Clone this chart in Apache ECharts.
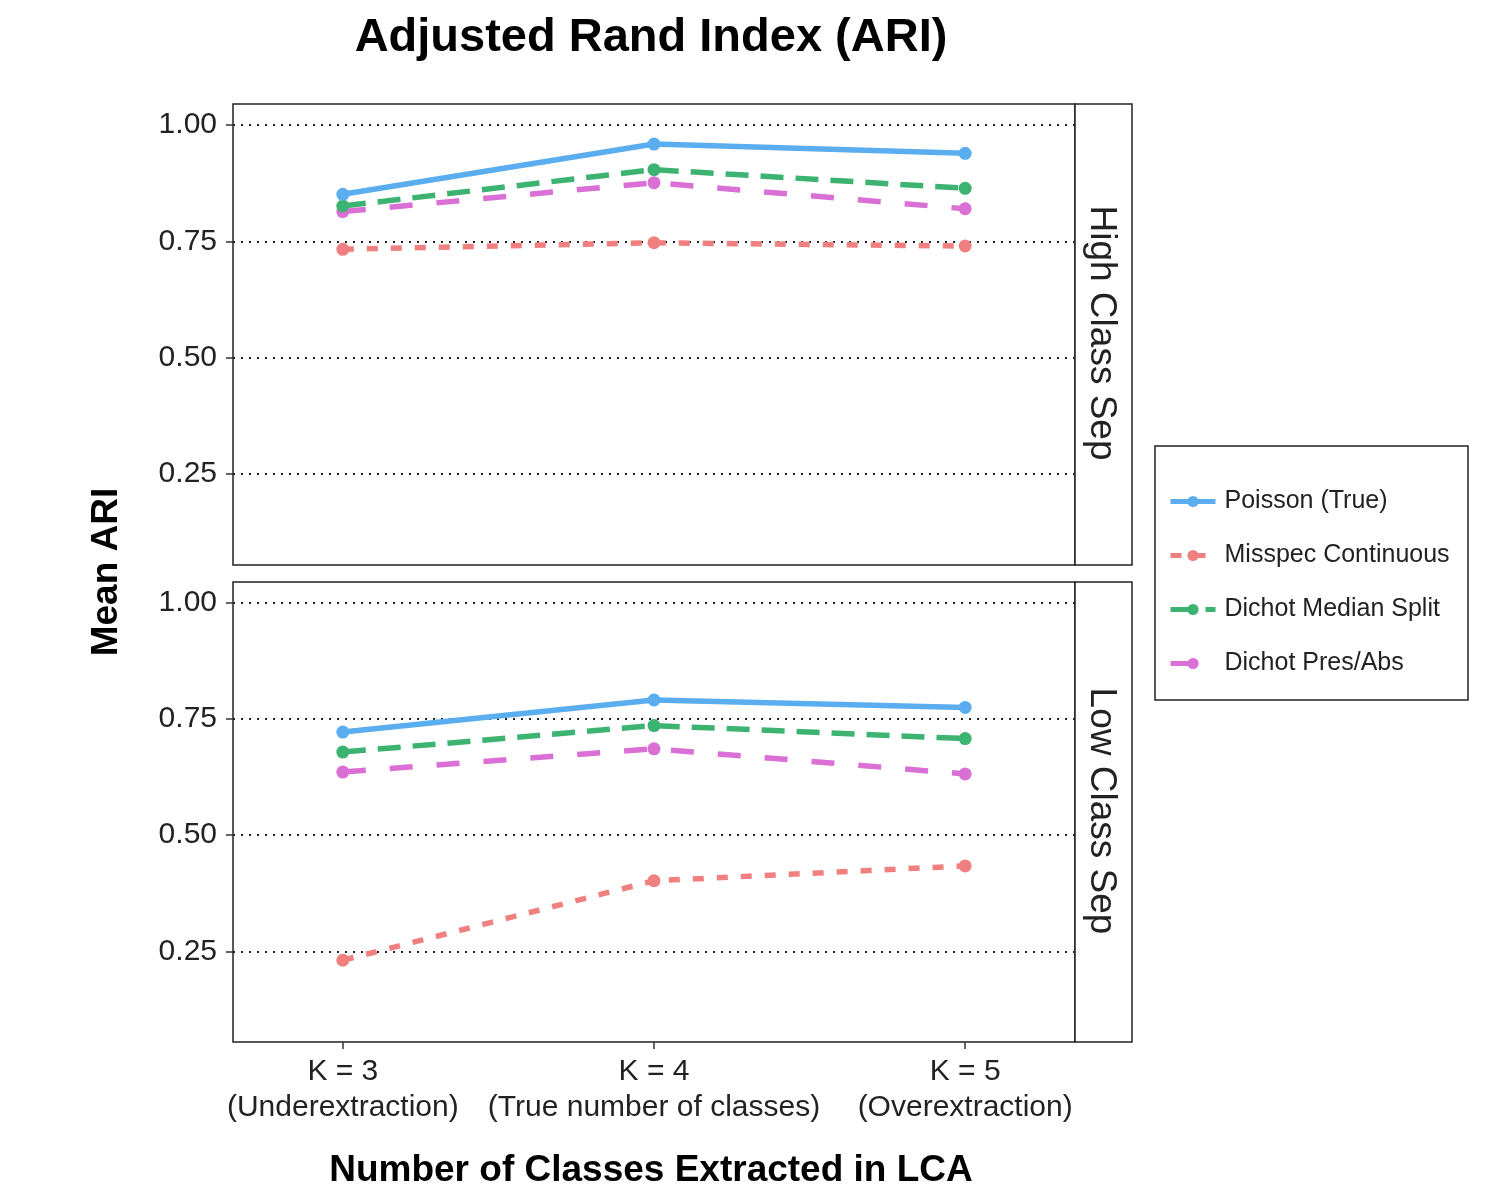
<!DOCTYPE html>
<html>
<head>
<meta charset="utf-8">
<script src="https://cdn.jsdelivr.net/npm/echarts@6/dist/echarts.min.js"></script>
<style>
  html, body { margin: 0; padding: 0; background: #fff; }
  #chart { width: 1509px; height: 1203px; }
</style>
</head>
<body>
<div id="chart"></div>
<script>
// x positions and tick labels
const kValues = [3, 4, 5]
const kLabels = ['K = 3\n(Underextraction)', 'K = 4\n(True number of classes)', 'K = 5\n(Overextraction)']
const yTicks = [0.25, 0.5, 0.75, 1.0]

const seriesNames = ['Poisson (True)', 'Misspec Continuous', 'Dichot Median Split', 'Dichot Pres/Abs']

// High Class Sep panel
const highPoisson = [0.851, 0.959, 0.939]
const highMisspec = [0.733, 0.747, 0.740]
const highMedian = [0.826, 0.904, 0.864]
const highPresAbs = [0.814, 0.876, 0.820]

// Low Class Sep panel
const lowPoisson = [0.722, 0.791, 0.775]
const lowMisspec = [0.231, 0.402, 0.434]
const lowMedian = [0.679, 0.736, 0.708]
const lowPresAbs = [0.636, 0.686, 0.632]

const colors = ['#5AADEE', '#F08080', '#3CB371', '#DA70D6']
const dashes = ['solid', [11, 13], [23, 12], [23, 24]]
const font = 'Liberation Sans'

const chart = echarts.init(document.getElementById('chart'))

function makeSeries(name, idx, values, gridIdx) {
    return {
        name: name,
        type: 'line',
        xAxisIndex: gridIdx,
        yAxisIndex: gridIdx,
        data: values.map((v, i) => [kValues[i], v]),
        symbol: 'circle',
        symbolSize: 13,
        color: colors[idx],
        lineStyle: { width: 5.5, type: dashes[idx], color: colors[idx] },
        itemStyle: { color: colors[idx] },
        z: 10 - idx
    }
}

function yAxisFor(gridIdx) {
    return {
        type: 'value',
        gridIndex: gridIdx,
        min: 0.055,
        max: 1.045,
        axisLine: { show: false },
        axisTick: { show: true, length: 7, customValues: yTicks, lineStyle: { color: '#333', width: 1.5 } },
        axisLabel: {
            customValues: yTicks,
            formatter: v => v.toFixed(2),
            fontFamily: font, fontSize: 30, color: '#222', margin: 16
        },
        splitLine: { show: true, lineStyle: { color: '#222', width: 2, type: [2, 6] } }
    }
}

function xAxisFor(gridIdx, showLabels) {
    return {
        type: 'value',
        gridIndex: gridIdx,
        min: 2.647,
        max: 5.353,
        axisLine: { show: false },
        axisTick: { show: showLabels, length: 7, customValues: kValues, lineStyle: { color: '#333', width: 1.5 } },
        axisLabel: {
            show: showLabels,
            customValues: kValues,
            formatter: v => kLabels[kValues.indexOf(Math.round(v))],
            fontFamily: font, fontSize: 30, color: '#222', lineHeight: 36, margin: 12
        },
        splitLine: { show: false }
    }
}

const option = {
    backgroundColor: '#fff',
    animation: false,
    grid: [
        { left: 233, top: 104, width: 842, height: 461, show: true, borderColor: '#222', borderWidth: 1.5 },
        { left: 233, top: 582, width: 842, height: 460, show: true, borderColor: '#222', borderWidth: 1.5 }
    ],
    xAxis: [xAxisFor(0, false), xAxisFor(1, true)],
    yAxis: [yAxisFor(0), yAxisFor(1)],
    legend: {
        data: seriesNames,
        orient: 'vertical',
        left: 1163,
        top: 484,
        itemWidth: 45,
        itemHeight: 14,
        itemGap: 29,
        lineStyle: { width: 5 },
        textStyle: { fontFamily: font, fontSize: 25, color: '#222', padding: [0, 0, 0, 4] }
    },
    graphic: [
        { type: 'rect', shape: { x: 1155, y: 446, width: 313, height: 254 }, style: { fill: 'none', stroke: '#222', lineWidth: 1.5 } },
        { type: 'rect', shape: { x: 1075, y: 104, width: 57, height: 461 }, style: { fill: '#fff', stroke: '#222', lineWidth: 1.5 } },
        { type: 'rect', shape: { x: 1075, y: 582, width: 57, height: 460 }, style: { fill: '#fff', stroke: '#222', lineWidth: 1.5 } },
        { type: 'text', x: 1101, y: 333, rotation: -Math.PI / 2, style: { text: 'High Class Sep', font: '37px "Liberation Sans"', fill: '#222', align: 'center', verticalAlign: 'middle' } },
        { type: 'text', x: 1101, y: 811, rotation: -Math.PI / 2, style: { text: 'Low Class Sep', font: '37px "Liberation Sans"', fill: '#222', align: 'center', verticalAlign: 'middle' } },
        { type: 'text', x: 651, y: 38, style: { text: 'Adjusted Rand Index (ARI)', font: 'bold 47px "Liberation Sans"', fill: '#000', align: 'center', verticalAlign: 'middle' } },
        { type: 'text', x: 651, y: 1171, style: { text: 'Number of Classes Extracted in LCA', font: 'bold 37px "Liberation Sans"', fill: '#000', align: 'center', verticalAlign: 'middle' } },
        { type: 'text', x: 107, y: 572, rotation: Math.PI / 2, style: { text: 'Mean ARI', font: 'bold 37px "Liberation Sans"', fill: '#000', align: 'center', verticalAlign: 'middle' } }
    ],
    series: [
        makeSeries(seriesNames[0], 0, highPoisson, 0),
        makeSeries(seriesNames[1], 1, highMisspec, 0),
        makeSeries(seriesNames[2], 2, highMedian, 0),
        makeSeries(seriesNames[3], 3, highPresAbs, 0),
        makeSeries(seriesNames[0], 0, lowPoisson, 1),
        makeSeries(seriesNames[1], 1, lowMisspec, 1),
        makeSeries(seriesNames[2], 2, lowMedian, 1),
        makeSeries(seriesNames[3], 3, lowPresAbs, 1)
    ]
}

chart.setOption(option)
</script>
</body>
</html>
